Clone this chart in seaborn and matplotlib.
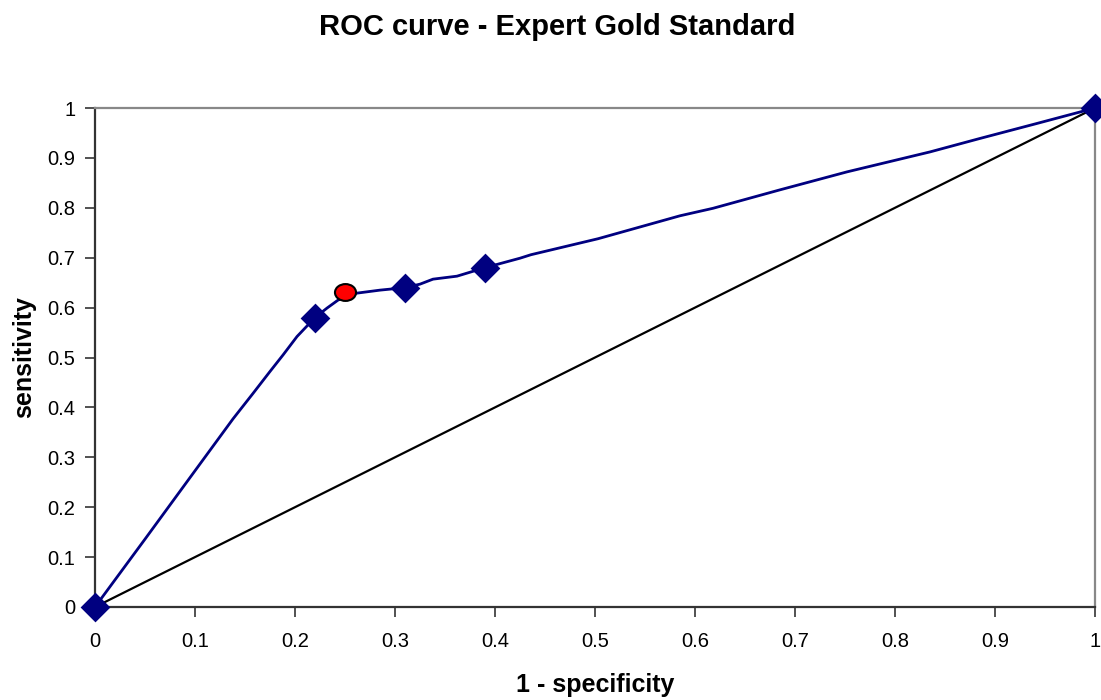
import numpy as np
import pandas as pd
import matplotlib
matplotlib.use("Agg")
import matplotlib.pyplot as plt
import seaborn as sns
from matplotlib.path import Path
from matplotlib.transforms import Affine2D

# Data
roc_fpr = [0.0, 0.22, 0.31, 0.39, 1.0]
roc_tpr = [0.0, 0.58, 0.64, 0.68, 1.0]

curve_fpr = [0.0, 0.05, 0.10, 0.138, 0.158, 0.175, 0.188, 0.202, 0.22, 0.232, 0.243,
             0.25, 0.262, 0.285, 0.31, 0.325, 0.338, 0.362, 0.39, 0.425, 0.436, 0.503,
             0.585, 0.618, 0.685, 0.752, 0.835, 0.885, 0.94, 1.0]
curve_tpr = [0.0, 0.136, 0.273, 0.377, 0.428, 0.472, 0.505, 0.542, 0.58, 0.599, 0.615,
             0.621, 0.629, 0.635, 0.64, 0.647, 0.657, 0.663, 0.68, 0.699, 0.706, 0.738,
             0.784, 0.799, 0.836, 0.872, 0.912, 0.939, 0.968, 1.0]

chance_x = [0.0, 1.0]
chance_y = [0.0, 1.0]

opt_x = [0.25]
opt_y = [0.632]

x_ticks = [0, 0.1, 0.2, 0.3, 0.4, 0.5, 0.6, 0.7, 0.8, 0.9, 1]
y_ticks = [0, 0.1, 0.2, 0.3, 0.4, 0.5, 0.6, 0.7, 0.8, 0.9, 1]
x_labels = ["0", "0.1", "0.2", "0.3", "0.4", "0.5", "0.6", "0.7", "0.8", "0.9", "1"]
y_labels = ["0", "0.1", "0.2", "0.3", "0.4", "0.5", "0.6", "0.7", "0.8", "0.9", "1"]

sns.set_style("white")
plt.rcParams['font.family'] = ['Liberation Sans', 'DejaVu Sans']
plt.rcParams['text.color'] = 'black'
plt.rcParams['axes.labelcolor'] = 'black'
plt.rcParams['xtick.color'] = 'black'
plt.rcParams['ytick.color'] = 'black'

fig = plt.figure(figsize=(11.01, 7.0), dpi=100)
ax = fig.add_axes([95/1101, 93/700, 1000/1101, 499/700])

navy = "#000080"
curve_df = pd.DataFrame({"x": curve_fpr, "y": curve_tpr})
sns.lineplot(data=curve_df, x="x", y="y", ax=ax, color=navy, linewidth=2,
             sort=False, estimator=None, zorder=3)
sns.lineplot(x=chance_x, y=chance_y, ax=ax, color="black", linewidth=1.6,
             estimator=None, zorder=2)
pts_df = pd.DataFrame({"x": roc_fpr, "y": roc_tpr})
sns.scatterplot(data=pts_df, x="x", y="y", ax=ax, marker="D", s=230, color=navy,
                edgecolor=navy, linewidth=0, zorder=5, clip_on=False)

ell = Path.unit_circle().transformed(Affine2D().scale(1.25, 1.0))
sns.scatterplot(x=opt_x, y=opt_y, ax=ax, marker=ell, s=230, color="#ff0000",
                edgecolor="black", linewidth=1.5, zorder=6)

ax.set_xlim(0, 1)
ax.set_ylim(0, 1)
ax.set_xticks(x_ticks)
ax.set_xticklabels(x_labels)
ax.set_yticks(y_ticks)
ax.set_yticklabels(y_labels)
ax.tick_params(axis="both", direction="out", length=7, width=1.2, color="#333333",
               labelsize=14.5, pad=7, bottom=True, left=True, labelcolor="black")
ax.tick_params(axis="x", pad=11)

for side in ["left", "bottom"]:
    ax.spines[side].set_color("#333333")
    ax.spines[side].set_linewidth(1.6)
for side in ["top", "right"]:
    ax.spines[side].set_color("#888888")
    ax.spines[side].set_linewidth(1.6)

ax.set_xlabel("1 - specificity", fontsize=18, fontweight="bold", labelpad=16, color="black")
ax.set_ylabel("sensitivity", fontsize=18, fontweight="bold", labelpad=8, color="black")
fig.text(557/1101, 1 - 27/700, "ROC curve - Expert Gold Standard", ha="center",
         va="center", fontsize=21, fontweight="bold", color="black")

fig.savefig("out.png", dpi=100)
